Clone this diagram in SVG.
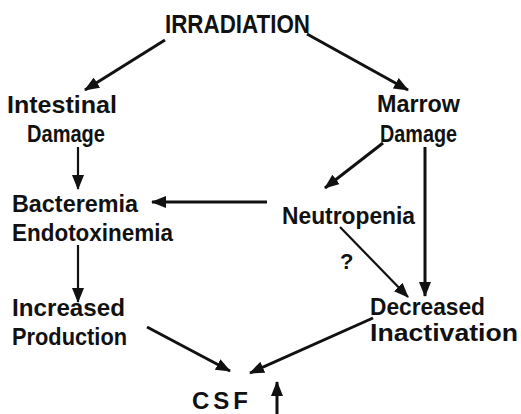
<svg xmlns="http://www.w3.org/2000/svg" width="521" height="414" viewBox="0 0 521 414">
<style>
.t{font-family:"Liberation Sans Narrow","Liberation Sans",Arial,sans-serif;font-weight:bold;font-size:24px;fill:#111}
.big{font-size:26px}
.q{font-size:22px}
.c{stroke:#111;stroke-width:3;fill:none;marker-end:url(#ah)}
.c2{stroke:#111;stroke-width:2.2;fill:none;marker-end:url(#ah)}
</style>
<defs>
<marker id="ah" markerUnits="userSpaceOnUse" markerWidth="15" markerHeight="12" viewBox="0 0 15 12" refX="14" refY="6" orient="auto">
<path d="M0,0 L15,6 L0,12 Z" fill="#111"/>
</marker>
</defs>
<rect width="521" height="414" fill="#fff"/>
<g id="irradiation"><text class="t big" x="165" y="33" textLength="145" lengthAdjust="spacingAndGlyphs">IRRADIATION</text></g>
<g id="intestinal"><text class="t" x="7" y="113" textLength="110" lengthAdjust="spacingAndGlyphs">Intestinal</text><text class="t" x="27" y="142" textLength="78" lengthAdjust="spacingAndGlyphs">Damage</text></g>
<g id="marrow"><text class="t" x="377" y="112" textLength="83" lengthAdjust="spacingAndGlyphs">Marrow</text><text class="t" x="380" y="142" textLength="77" lengthAdjust="spacingAndGlyphs">Damage</text></g>
<g id="bacteremia"><text class="t" x="12" y="212" textLength="126" lengthAdjust="spacingAndGlyphs">Bacteremia</text><text class="t" x="12" y="241" textLength="161" lengthAdjust="spacingAndGlyphs">Endotoxinemia</text></g>
<g id="neutropenia"><text class="t" x="282" y="224" textLength="133" lengthAdjust="spacingAndGlyphs">Neutropenia</text></g>
<g id="increased"><text class="t" x="12" y="316" textLength="113" lengthAdjust="spacingAndGlyphs">Increased</text><text class="t" x="12" y="345" textLength="115" lengthAdjust="spacingAndGlyphs">Production</text></g>
<g id="decreased"><text class="t" x="370" y="315" textLength="115" lengthAdjust="spacingAndGlyphs">Decreased</text><text class="t" x="370" y="341" textLength="148" lengthAdjust="spacingAndGlyphs">Inactivation</text></g>
<g id="csf"><text class="t" x="192" y="409" textLength="56" lengthAdjust="spacing">CSF</text></g>
<g id="connectors">
<line class="c" x1="165" y1="40" x2="85" y2="90"/>
<line class="c" x1="307" y1="34" x2="408" y2="90"/>
<line class="c2" x1="78" y1="147" x2="78" y2="189"/>
<line class="c" x1="383" y1="143" x2="325" y2="188"/>
<line class="c" x1="267" y1="202" x2="152" y2="202"/>
<line class="c" x1="425" y1="147" x2="425" y2="296"/>
<line class="c2" x1="340" y1="227" x2="408" y2="297"/>
<text class="t q" x="340" y="269">?</text>
<line class="c2" x1="78" y1="245" x2="78" y2="302"/>
<line class="c" x1="147" y1="327" x2="230" y2="371"/>
<line class="c" x1="373" y1="318" x2="250" y2="373"/>
<line class="c" x1="277" y1="414" x2="277" y2="382"/>
</g>
</svg>
